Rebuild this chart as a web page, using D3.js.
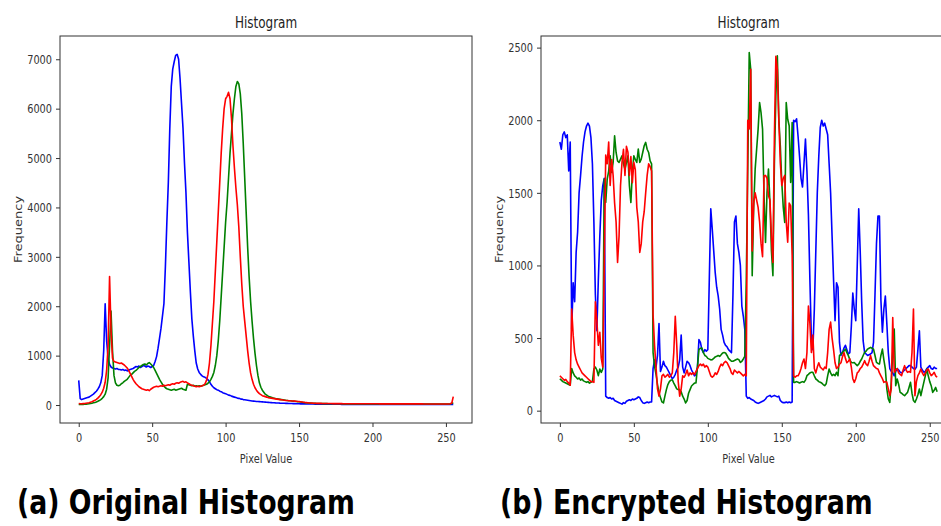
<!DOCTYPE html>
<html><head><meta charset="utf-8">
<script src="https://cdn.jsdelivr.net/npm/d3@7"></script>
<style>body{margin:0;background:#fff}svg{display:block}</style>
</head><body><svg id="c" width="941" height="526"></svg>
<script>
const xTicks = [0, 50, 100, 150, 200, 250];
const yTicksOriginal = [0, 1000, 2000, 3000, 4000, 5000, 6000, 7000];
const yTicksEncrypted = [0, 500, 1000, 1500, 2000, 2500];
const panelTitle = "Histogram";
const xLabel = "Pixel Value";
const yLabel = "Frequency";
const captions = ["(a) Original Histogram", "(b) Encrypted Histogram"];

const origBlue = [500,130,110,120,130,140,150,160,180,200,
220,250,280,320,370,450,600,1100,2050,1300,
950,820,770,750,740,730,740,720,720,710,
720,700,710,690,700,720,730,740,760,780,
770,790,760,780,800,790,770,790,780,760,
780,800,880,980,1150,1350,1550,1800,2050,2800,
3700,4500,5600,6450,6800,6950,7080,7100,7000,6600,
6100,5600,4900,4300,3500,2900,2300,1750,1400,1100,
850,730,660,620,590,570,560,540,510,470,
420,380,350,330,310,300,280,270,250,240,
230,215,200,195,180,170,160,150,140,135,
125,120,110,105,100,95,90,85,80,78,
75,72,70,68,65,63,60,58,55,53,
50,48,46,45,43,42,40,38,37,36,
35,34,33,32,31,30,29,28,27,26,
25,24,24,23,23,22,22,21,21,20,
20,19,19,19,18,18,18,17,17,17,
16,16,16,16,15,15,15,15,15,14,
14,14,14,14,13,13,13,13,13,13,
13,12,12,12,12,12,12,12,12,11,
11,11,11,11,11,11,11,11,11,11,
11,10,10,10,10,10,10,10,10,10,
10,10,10,10,10,10,10,10,10,10,
10,10,10,10,10,10,10,10,10,10,
10,10,10,10,10,10,10,10,10,10,
10,10,10,10,10,12];

const origGreen = [10,10,12,14,16,18,22,26,30,36,
44,52,62,75,90,110,135,170,220,320,
550,1200,1900,1100,600,450,400,390,400,430,
450,480,500,520,560,600,620,650,680,700,
730,760,780,800,820,830,810,840,860,830,
800,760,700,640,580,520,470,420,380,350,
330,320,310,300,310,320,300,310,320,330,
340,320,310,300,420,410,400,390,400,380,
390,380,390,380,390,400,410,420,440,470,
520,580,660,800,1000,1300,1700,2200,2700,3200,
3700,4100,4600,5100,5500,5900,6200,6450,6550,6500,
6300,5900,5300,4600,3900,3200,2600,2100,1700,1350,
1050,800,600,450,360,300,260,220,200,180,
165,155,145,138,130,125,120,115,110,105,
100,95,92,88,85,82,78,75,72,68,
65,60,56,52,48,45,42,40,38,36,
34,33,32,31,30,30,29,29,28,28,
27,27,27,26,26,26,25,25,25,25,
24,24,24,24,24,23,23,23,23,23,
23,22,22,22,22,22,22,22,22,22,
21,21,21,21,21,21,21,21,21,21,
21,21,20,20,20,20,20,20,20,20,
20,20,20,20,20,20,20,20,20,20,
20,20,20,20,20,20,20,20,20,20,
20,20,20,20,20,20,20,20,20,20,
20,20,22,25,30,50];

const origRed = [30,25,25,28,30,35,40,45,55,65,
80,95,115,140,170,210,260,340,460,700,
1200,2600,1500,950,880,870,860,850,840,850,
830,810,780,750,700,640,580,520,470,430,
400,370,350,330,320,310,300,310,290,320,
340,360,370,380,370,380,390,380,400,390,
400,410,400,420,430,420,440,450,440,460,
470,480,460,470,450,430,410,400,390,380,
370,380,370,380,390,400,430,500,620,850,
1200,1650,2100,2700,3300,3900,4500,5100,5600,6000,
6200,6250,6330,6200,5800,5250,4800,4400,4050,3600,
3000,2450,2000,1700,1400,1100,850,650,520,420,
350,300,260,230,210,190,180,170,160,150,
145,140,135,130,125,120,115,110,105,100,
95,92,90,88,85,82,80,78,75,72,
70,65,60,55,50,48,45,42,40,38,
36,35,34,34,33,33,32,32,31,31,
30,30,30,29,29,29,28,28,28,28,
27,27,27,27,27,26,26,26,26,26,
26,25,25,25,25,25,25,25,25,25,
25,25,25,25,25,24,24,24,24,24,
24,24,24,24,24,24,24,24,24,24,
23,23,23,23,23,23,23,23,23,23,
23,23,23,23,23,22,22,22,22,22,
22,22,22,22,22,22,22,22,22,22,
22,22,22,25,40,170];

const encBlue = [1850,1800,1900,1920,1880,1900,1650,1850,560,880,
750,1090,1230,1500,1620,1750,1850,1920,1960,1980,
1960,1880,1700,1300,800,550,900,1200,1450,1550,
1600,100,90,85,90,80,85,70,65,60,
55,50,45,55,50,65,70,75,70,80,
75,80,85,95,90,70,55,50,55,60,
55,60,60,290,350,300,380,600,270,300,
340,310,300,280,260,240,220,230,250,280,
300,350,520,300,260,300,340,330,310,280,
260,240,250,300,490,470,420,400,420,410,
420,900,1390,1250,1100,950,850,790,700,560,
520,470,450,440,420,410,400,800,1300,1340,
1150,1090,1000,720,650,560,100,85,90,80,
75,70,60,55,50,55,60,65,70,80,
95,100,105,95,100,105,100,95,100,70,
60,55,55,60,55,60,55,60,2000,1990,
2010,1890,1750,1600,1540,1700,1870,1650,1350,900,
500,420,700,1100,1500,1750,1950,2000,1960,1980,
1940,1900,1700,1500,1200,900,620,880,850,470,
380,400,430,450,420,390,400,580,810,700,
620,1000,1390,1100,750,480,400,390,380,385,
390,400,470,800,1150,1340,1340,760,540,700,
790,600,400,290,270,260,240,270,290,280,
265,260,270,280,290,300,310,310,300,290,
285,300,420,550,300,280,265,270,290,300,
310,290,285,300,290,290];

const encGreen = [220,210,200,195,190,185,180,175,290,260,
240,230,218,225,210,218,205,200,195,200,
190,195,200,287,300,280,241,287,264,287,
1595,1433,1595,1650,1755,1640,1709,1893,1778,1720,
1709,1732,1755,1700,1663,1709,1755,1549,1433,1640,
1755,1730,1709,1801,1709,1732,1778,1824,1847,1800,
1778,1720,1700,400,305,250,180,122,90,60,
53,100,145,180,200,210,213,190,170,150,
145,145,130,100,80,53,70,120,145,170,
180,190,191,300,420,430,431,400,380,374,
360,355,350,351,360,370,374,380,374,385,
397,400,397,380,360,350,340,340,345,351,
355,351,332,340,356,374,900,1663,2466,2351,
929,1400,1663,1800,1939,2122,2050,1939,1480,1158,
1500,1663,1434,1100,929,1700,2168,2443,2007,1824,
1572,1400,1296,2122,2007,1962,1572,1984,195,195,
200,195,190,195,200,195,210,241,250,260,
264,264,240,218,210,200,195,190,180,172,
185,240,287,260,241,250,241,264,241,379,
390,401,410,424,400,379,350,332,330,332,
320,310,320,340,356,380,401,410,424,430,
436,430,424,380,332,325,321,380,424,350,
287,150,80,57,200,400,562,172,218,180,
126,120,110,103,115,126,160,195,120,70,
57,80,110,149,103,150,195,240,287,240,
200,172,126,140,160,130];

const encRed = [240,230,220,210,215,200,190,175,700,520,
400,350,320,300,280,260,250,240,230,220,
210,200,200,195,750,620,450,540,360,300,
1000,1760,1700,1850,1550,1730,1620,1430,1300,1020,
1200,1550,1710,1800,1620,1820,1780,1620,1750,1570,
1710,1660,1400,1300,1090,1150,1300,1370,1500,1620,
1700,1680,1650,660,450,300,150,100,150,240,
250,230,240,250,230,240,260,400,650,450,
200,100,150,240,230,250,280,240,260,250,
260,250,270,290,310,320,310,320,300,310,
300,270,240,230,240,260,250,270,300,320,
310,330,340,330,310,290,260,250,280,270,
260,270,260,250,240,250,240,2000,1940,2350,
1100,1430,1500,1450,1400,1300,1150,1060,1617,1620,
1600,1480,1450,1200,1020,1890,2440,2350,2000,1710,
1550,1600,1620,1300,1160,1430,1410,1070,240,230,
240,240,260,290,330,356,290,400,720,600,
400,520,290,260,300,330,300,290,280,300,
290,400,560,610,500,420,330,290,300,320,
330,370,400,360,330,340,356,300,220,195,
220,260,270,290,300,320,344,320,310,340,
379,340,310,300,290,287,260,240,220,195,
200,195,150,103,149,642,264,280,290,260,
250,241,280,310,280,264,270,264,400,700,
103,200,241,260,287,260,241,260,280,287,
260,241,250,264,240,230];

const svg = d3.select('#c');
const SX = 0.75; // horizontal squeeze of the scaled-down figure text
const FONT = "'DejaVu Sans', sans-serif";

function panel(cfg, idx) {
  const x = d3.scaleLinear().domain([-12.75, 267.75]).range([cfg.left, cfg.right]);
  const y = d3.scaleLinear().domain(cfg.yDomain).range([cfg.bottom, cfg.top]);
  const g = svg.append('g');
  const clipId = 'clip' + idx;
  svg.append('clipPath').attr('id', clipId).append('rect')
    .attr('x', cfg.left).attr('y', cfg.top)
    .attr('width', cfg.right - cfg.left).attr('height', cfg.bottom - cfg.top);

  const line = d3.line().x((d, i) => x(i)).y(d => y(d));
  const series = [
    {data: cfg.blue, color: '#0000ff'},
    {data: cfg.green, color: '#008000'},
    {data: cfg.red, color: '#ff0000'}
  ];
  const lg = g.append('g').attr('clip-path', `url(#${clipId})`);
  lg.selectAll('path').data(series).join('path')
    .attr('d', s => line(s.data))
    .attr('fill', 'none')
    .attr('stroke', s => s.color)
    .attr('stroke-width', 1.6)
    .attr('stroke-linejoin', 'round');

  g.append('rect')
    .attr('x', cfg.left).attr('y', cfg.top)
    .attr('width', cfg.right - cfg.left).attr('height', cfg.bottom - cfg.top)
    .attr('fill', 'none').attr('stroke', '#333').attr('stroke-width', 1);

  const ya = g.append('g').attr('transform', `translate(${cfg.left},0)`)
    .call(d3.axisLeft(y).tickValues(cfg.yTicks).tickSize(4).tickPadding(4).tickFormat(d3.format('d')));
  ya.select('.domain').remove();
  ya.selectAll('.tick line').attr('stroke', '#333');
  ya.selectAll('text')
    .attr('x', -8 / SX).attr('transform', `scale(${SX},1)`)
    .style('font-family', FONT).style('font-size', '13px').attr('fill', '#333');

  const xa = g.append('g').attr('transform', `translate(0,${cfg.bottom})`)
    .call(d3.axisBottom(x).tickValues(xTicks).tickSize(4).tickPadding(6).tickFormat(d3.format('d')));
  xa.select('.domain').remove();
  xa.selectAll('.tick line').attr('stroke', '#333');
  xa.selectAll('text')
    .attr('transform', `scale(${SX},1)`)
    .style('font-family', FONT).style('font-size', '13px').attr('fill', '#333');

  const cx = (cfg.left + cfg.right) / 2;
  g.append('text')
    .attr('transform', `translate(${cx},28) scale(${SX},1)`)
    .attr('text-anchor', 'middle')
    .style('font-family', FONT).style('font-size', '16px').attr('fill', '#222')
    .text(panelTitle);

  g.append('text')
    .attr('transform', `translate(${cx},463) scale(${SX},1)`)
    .attr('text-anchor', 'middle')
    .style('font-family', FONT).style('font-size', '13px').attr('fill', '#333')
    .text(xLabel);

  g.append('text')
    .attr('transform', `translate(${cfg.yLabelX},${(cfg.top + cfg.bottom) / 2}) scale(${SX},1) rotate(-90)`)
    .attr('text-anchor', 'middle')
    .style('font-family', FONT).style('font-size', '13px').attr('fill', '#333')
    .text(yLabel);

  const cap = svg.append('text')
    .attr('x', 0).attr('y', 0)
    .style('font-family', FONT).style('font-size', '33px').style('font-weight', 'bold')
    .attr('fill', '#000')
    .text(captions[idx]);
  const natural = cap.node().getComputedTextLength() || cfg.capW;
  cap.attr('transform', `translate(${cfg.capX},514) scale(${cfg.capW / natural},1)`);
}

panel({left: 60, right: 472, top: 36, bottom: 423, yDomain: [-364, 7471],
  yTicks: yTicksOriginal, blue: origBlue, green: origGreen, red: origRed,
  yLabelX: 22, capX: 17, capW: 338}, 0);
panel({left: 541, right: 956, top: 36, bottom: 423, yDomain: [-85, 2580],
  yTicks: yTicksEncrypted, blue: encBlue, green: encGreen, red: encRed,
  yLabelX: 503, capX: 500, capW: 373}, 1);
</script></body></html>
